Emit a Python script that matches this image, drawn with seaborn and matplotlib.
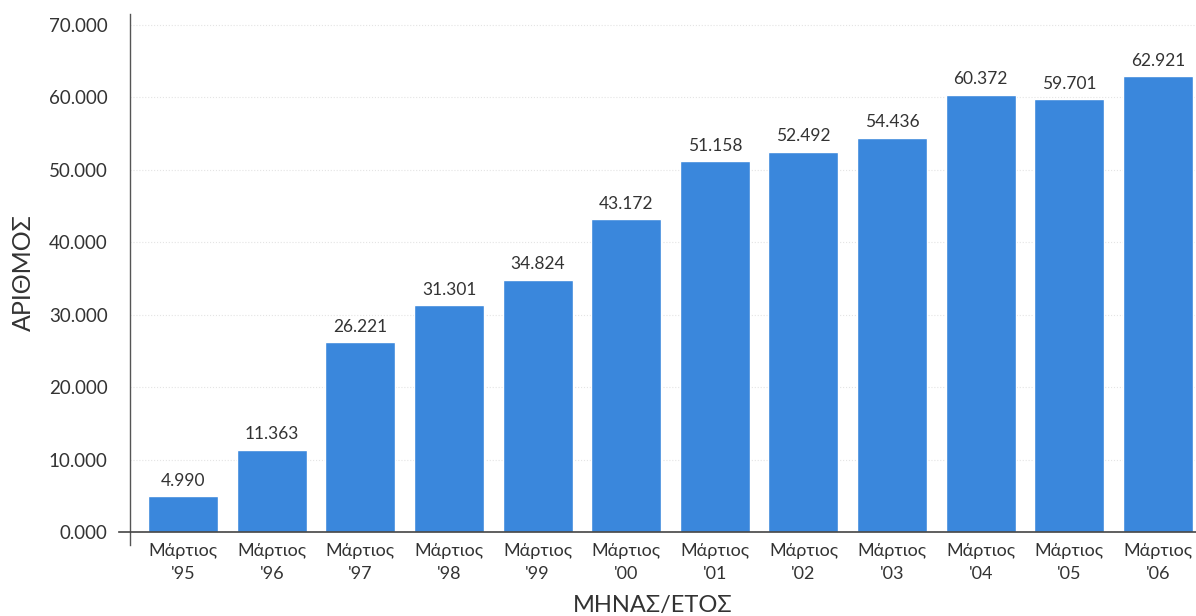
import pandas as pd
import seaborn as sns
import matplotlib.pyplot as plt

# data
months = ["Μάρτιος\n'95", "Μάρτιος\n'96", "Μάρτιος\n'97", "Μάρτιος\n'98",
          "Μάρτιος\n'99", "Μάρτιος\n'00", "Μάρτιος\n'01", "Μάρτιος\n'02",
          "Μάρτιος\n'03", "Μάρτιος\n'04", "Μάρτιος\n'05", "Μάρτιος\n'06"]
values = [4990, 11363, 26221, 31301, 34824, 43172, 51158, 52492,
          54436, 60372, 59701, 62921]
value_labels = ["4.990", "11.363", "26.221", "31.301", "34.824", "43.172",
                "51.158", "52.492", "54.436", "60.372", "59.701", "62.921"]
yticks = [0, 10000, 20000, 30000, 40000, 50000, 60000, 70000]
ytick_labels = ["0.000", "10.000", "20.000", "30.000", "40.000",
                "50.000", "60.000", "70.000"]

df = pd.DataFrame({'month': months, 'value': values})

sns.set_style('white')
plt.rcParams['font.family'] = ['Lato', 'DejaVu Sans']
txt = '#333333'

fig = plt.figure(figsize=(11.96, 6.16), dpi=100)
ax = fig.add_axes([0.1087, 0.1364, 0.8913, 0.8409])

sns.barplot(x='month', y='value', data=df, color='#3a87dc', saturation=1,
            width=0.79, ax=ax)

for i, (v, lab) in enumerate(zip(values, value_labels)):
    ax.text(i, v + 1000, lab, ha='center', va='bottom', fontsize=12.5,
            color=txt)

ax.set_xlim(-0.6, 11.43)
ax.set_ylim(0, 71500)
ax.set_yticks(yticks)
ax.set_yticklabels(ytick_labels, fontsize=13.5, color=txt)
ax.tick_params(axis='x', labelsize=13, colors=txt, length=0, pad=8)
ax.tick_params(axis='y', length=0, pad=16)
for lab in ax.get_xticklabels():
    lab.set_linespacing(1.5)

ax.yaxis.grid(True, color='#e4e4e4', linestyle=':', linewidth=0.8)
ax.set_axisbelow(True)

for s in ['top', 'right']:
    ax.spines[s].set_visible(False)
ax.spines['left'].set_color('#555555')
ax.spines['bottom'].set_color('#444444')
ax.spines['left'].set_linewidth(1.0)
ax.spines['bottom'].set_linewidth(1.2)
ax.spines['left'].set_bounds(-1800, 71500)
ax.spines['bottom'].set_bounds(-0.72, 11.43)

ax.set_xlabel('ΜΗΝΑΣ/ΕΤΟΣ', fontsize=17, color=txt)
ax.xaxis.set_label_coords(0.49, -0.122)
ax.xaxis.label.set_va('top')
ax.set_ylabel('ΑΡΙΘΜΟΣ', fontsize=18, color=txt, labelpad=10)

plt.savefig('out.png', dpi=100)
